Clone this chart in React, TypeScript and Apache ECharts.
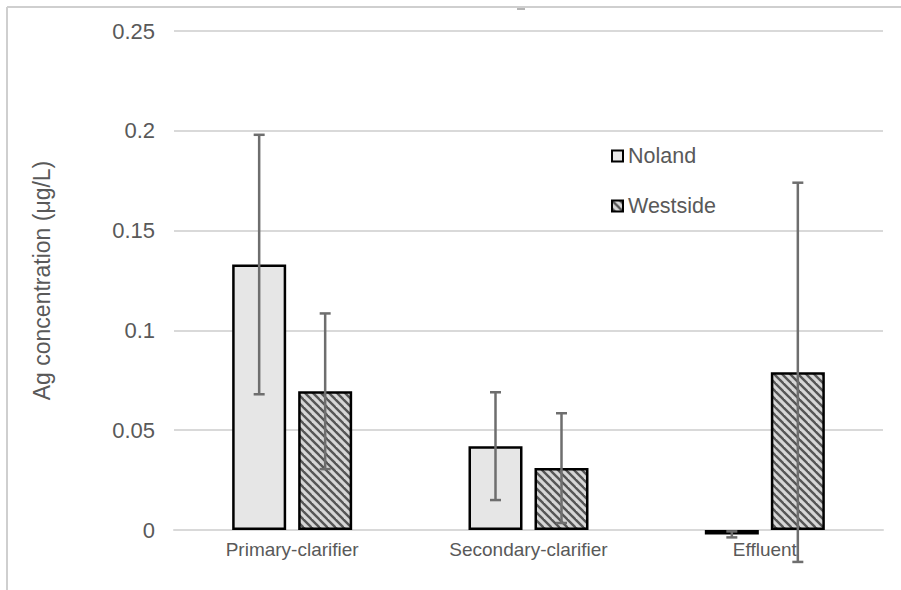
import React, { useEffect, useRef } from "react";
import * as echarts from "echarts";

const categories = ["Primary-clarifier", "Secondary-clarifier", "Effluent"];
const nolandMean = [0.133, 0.042, -0.0022];
const nolandErr = [0.065, 0.027, 0.0015];
const westsideMean = [0.0695, 0.031, 0.079];
const westsideErr = [0.039, 0.0275, 0.095];
const yTicks = { min: 0, max: 0.25, interval: 0.05 };

const BAR_W = 54;
const BAR_GAP = 12;
const ERR_COLOR = "#6e6e6e";
const TEXT_COLOR = "#595959";
const GRID_COLOR = "#d9d9d9";

function makeHatch() {
  const c = document.createElement("canvas");
  c.width = 8;
  c.height = 8;
  const ctx = c.getContext("2d")!;
  ctx.fillStyle = "#d6d6d6";
  ctx.fillRect(0, 0, 8, 8);
  ctx.strokeStyle = "#555555";
  ctx.lineWidth = 2.4;
  for (const x0 of [-8, 0, 8]) {
    ctx.beginPath();
    ctx.moveTo(x0 - 1, -1);
    ctx.lineTo(x0 + 9, 9);
    ctx.stroke();
  }
  return c;
}

function errData(mean: number[], err: number[]) {
  return mean.map((m, i) => [i, m - err[i], m + err[i]]);
}

function errSeries(name: string, data: number[][], offset: number) {
  return {
    type: "custom",
    name,
    clip: false,
    z: 5,
    data,
    encode: { x: 0, y: [1, 2] },
    renderItem: (_p: any, api: any) => {
      const idx = api.value(0);
      const lo = api.value(1);
      const hi = api.value(2);
      const pHi = api.coord([idx, hi]);
      const pLo = api.coord([idx, lo]);
      const x = pHi[0] + offset;
      const style = { stroke: ERR_COLOR, lineWidth: 2.5 };
      return {
        type: "group",
        children: [
          { type: "line", shape: { x1: x, y1: pHi[1], x2: x, y2: pLo[1] }, style },
          { type: "line", shape: { x1: x - 5.5, y1: pHi[1], x2: x + 5.5, y2: pHi[1] }, style },
          { type: "line", shape: { x1: x - 5.5, y1: pLo[1], x2: x + 5.5, y2: pLo[1] }, style },
        ],
      };
    },
  };
}

export default function App() {
  const ref = useRef<HTMLDivElement>(null);
  useEffect(() => {
    if (!ref.current) return;
    const chart = echarts.init(ref.current, null, { renderer: "svg" });
    const hatch = makeHatch();
    const hatchFill: any = { image: hatch, repeat: "repeat", imageWidth: 8, imageHeight: 8 };
    const offset = (BAR_W + BAR_GAP) / 2;
    chart.setOption({
      animation: false,
      textStyle: { fontFamily: "Liberation Sans, Arial, sans-serif" },
      grid: { left: 174, right: 18, top: 31, bottom: 60 },
      legend: {
        data: ["Noland", "Westside"],
        orient: "vertical",
        left: 611,
        top: 145,
        padding: 0,
        itemWidth: 11,
        itemHeight: 11,
        itemGap: 28,
        icon: "rect",
        textStyle: { color: TEXT_COLOR, fontSize: 21.5, lineHeight: 22, padding: [0, 0, 0, 0] },
      },
      xAxis: {
        type: "category",
        data: categories,
        axisLine: { show: true, lineStyle: { color: GRID_COLOR, width: 2 } },
        axisTick: { show: false },
        axisLabel: { color: TEXT_COLOR, fontSize: 19, margin: 10 },
      },
      yAxis: {
        type: "value",
        min: yTicks.min,
        max: yTicks.max,
        interval: yTicks.interval,
        axisLine: { show: false },
        axisTick: { show: false },
        splitLine: { lineStyle: { color: GRID_COLOR, width: 2 } },
        axisLabel: { color: TEXT_COLOR, fontSize: 22, margin: 19 },
        name: "Ag concentration (μg/L)",
        nameLocation: "middle",
        nameGap: 121,
        nameTextStyle: { color: TEXT_COLOR, fontSize: 23 },
      },
      series: [
        {
          type: "bar",
          name: "Noland",
          data: nolandMean,
          barWidth: BAR_W,
          barGap: (BAR_GAP / BAR_W) * 100 + "%",
          clip: false,
          itemStyle: { color: "#e6e6e6", borderColor: "#000", borderWidth: 2.5 },
        },
        {
          type: "bar",
          name: "Westside",
          data: westsideMean,
          barWidth: BAR_W,
          clip: false,
          itemStyle: { color: hatchFill, borderColor: "#000", borderWidth: 2.5 },
        },
        errSeries("NolandErr", errData(nolandMean, nolandErr), -offset),
        errSeries("WestsideErr", errData(westsideMean, westsideErr), offset),
      ],
      graphic: [
        { type: "line", shape: { x1: 7, y1: 7, x2: 901, y2: 7 }, style: { stroke: "#cfcfcf", lineWidth: 2 } },
        { type: "line", shape: { x1: 7, y1: 7, x2: 7, y2: 590 }, style: { stroke: "#cfcfcf", lineWidth: 2 } },
        { type: "rect", shape: { x: 517, y: 8, width: 8, height: 2 }, style: { fill: "#b5b5b5" } },
      ],
    });
    return () => chart.dispose();
  }, []);
  return (
    <div
      ref={ref}
      style={{ position: "fixed", left: 0, top: 0, width: 901, height: 590, background: "#fff" }}
    />
  );
}
